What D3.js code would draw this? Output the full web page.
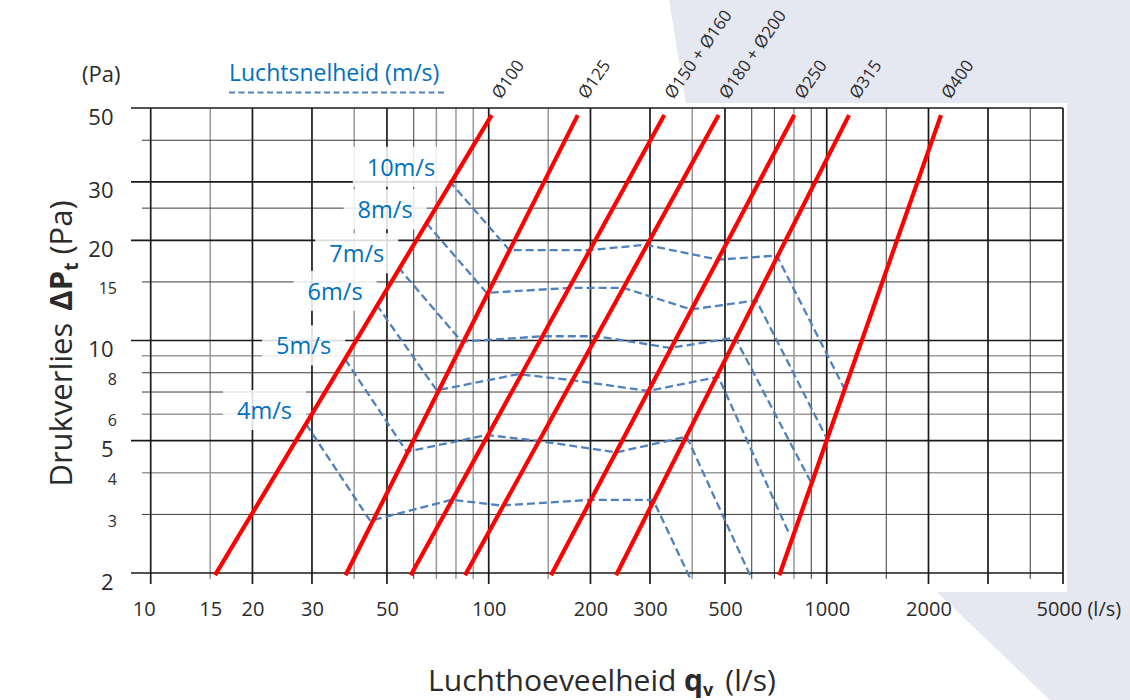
<!DOCTYPE html>
<html>
<head>
<meta charset="utf-8">
<script src="https://cdn.jsdelivr.net/npm/d3@7"></script>
<style>
body { margin: 0; background: #fff; }
svg { display: block; font-family: "Open Sans", sans-serif; }
</style>
</head>
<body>
<script>
// duct lines: q (l/s) at the lower and upper end
var ducts = ["Ø100", "Ø125", "Ø150 + Ø160", "Ø180 + Ø200", "Ø250", "Ø315", "Ø400"];
var ductQLow = [15.5, 37.7, 58.8, 85.1, 152.9, 238.1, 724];
var ductQHigh = [102, 183.4, 330.7, 478.9, 801.9, 1164, 2178];
var ductDp = [1.97, 47.6];

// air speed lines, one point per duct (q in l/s, dP in Pa)
var speeds = ["10m/s", "8m/s", "7m/s", "6m/s", "5m/s", "4m/s"];
var speedQ = [
    [76.4, 115.1, 199.4, 291.4, 477.8, 711.5, 1133],
    [65.5, 98.6, 174.0, 250.1, 396.7, 619.2, 1000],
    [54.0, 83.2, 145.1, 209.1, 343.9, 535.5, 896.7],
    [46.6, 70.2, 122.4, 176.4, 296.7, 477.8, 769.8],
    [37.6, 57.2, 98.6, 140.2, 239.1, 385.3, 593.1],
    [28.8, 44.6, 77.9, 109.3, 199.4, 306.3, 396.7]
];
var speedDp = [
    [30.2, 18.7, 18.7, 19.4, 17.5, 18.0, 7.1],
    [22.5, 13.9, 14.4, 14.4, 12.4, 13.2, 5.08],
    [16.6, 9.92, 10.3, 10.3, 9.5, 10.2, 3.76],
    [12.8, 7.08, 7.92, 7.6, 7.05, 7.78, 2.66],
    [8.78, 4.63, 5.2, 4.99, 4.61, 5.14, 1.97],
    [5.61, 2.87, 3.32, 3.19, 3.32, 3.32, 1.905]
];

// grid and ticks
var xMajor = [10, 20, 30, 50, 100, 200, 300, 500, 1000, 2000, 3000, 5000];
var xMid = [60, 600, 700, 900, 1500, 4000];
var xMinor = [15, 40, 70, 80, 90, 150, 400, 800];
var xLabels = [10, 15, 20, 30, 50, 100, 200, 300, 500, 1000, 2000, 5000];
var yMajor = [2, 5, 10, 20, 30, 50];
var yMid = [3, 7, 8, 15, 25, 40];
var yMinor = [4, 6, 9];
var yLabelsBig = [2, 5, 10, 20, 30, 50];
var yLabelsSmall = [3, 4, 6, 8, 15];

var width = 1130, height = 700;
var plotL = 150.7, plotR = 1063, plotT = 108, plotB = 573;
var textCol = "#2b2b2b";

var svg = d3.select("body")
    .append("svg")
    .attr("width", width)
    .attr("height", height);

var x = d3.scaleLog().domain([10, 5000]).range([plotL, plotR]);
var y = d3.scaleLog().domain([2, 50]).range([plotB, plotT]);

// background shape + white panel
svg.append("path")
    .attr("d", "M669,0 L686,103 L937,592 L1050,700 L1130,700 L1130,0 Z")
    .attr("fill", "#e5e7f1");
svg.append("rect")
    .attr("x", 0).attr("y", 103)
    .attr("width", 1067).attr("height", 489)
    .attr("fill", "#fff");

// grid
var grid = svg.append("g");
function vLines(vals, col, w, y2) {
    grid.selectAll(null).data(vals).enter().append("line")
        .attr("x1", d => x(d)).attr("x2", d => x(d))
        .attr("y1", plotT).attr("y2", y2)
        .attr("stroke", col).attr("stroke-width", w);
}
function hLines(vals, col, w, x1) {
    grid.selectAll(null).data(vals).enter().append("line")
        .attr("x1", x1).attr("x2", plotR)
        .attr("y1", d => y(d)).attr("y2", d => y(d))
        .attr("stroke", col).attr("stroke-width", w);
}
vLines(xMinor, "#9a9a9a", 1.5, 579);
hLines(yMinor, "#9a9a9a", 1.5, 142);
vLines(xMid, "#3a3a3a", 1, 579);
hLines(yMid, "#3a3a3a", 1, 142);
vLines(xMajor, "#1a1a1a", 1.7, 584);
hLines(yMajor, "#1a1a1a", 1.7, 131);

// x tick labels
var xAxis = svg.append("g")
    .attr("transform", "translate(0,602)")
    .call(d3.axisBottom(x).tickValues(xLabels).tickSize(0).tickPadding(0)
        .tickFormat(d => d === 5000 ? "5000 (l/s)" : d));
xAxis.select(".domain").remove();
xAxis.selectAll("text")
    .style("font-family", "Open Sans")
    .style("font-size", "20px")
    .attr("fill", textCol);
xAxis.selectAll("text").filter(d => d === 10).attr("x", -7);
xAxis.selectAll("text").filter(d => d === 5000)
    .attr("text-anchor", "start")
    .attr("x", -27);

// y tick labels
var yBig = svg.append("g")
    .attr("transform", "translate(113.5,9)")
    .call(d3.axisLeft(y).tickValues(yLabelsBig).tickSize(0).tickPadding(0).tickFormat(d3.format("d")));
yBig.select(".domain").remove();
yBig.selectAll("text").style("font-family", "Open Sans").style("font-size", "22px").attr("fill", textCol);

var ySmall = svg.append("g")
    .attr("transform", "translate(117,6.5)")
    .call(d3.axisLeft(y).tickValues(yLabelsSmall).tickSize(0).tickPadding(0).tickFormat(d3.format("d")));
ySmall.select(".domain").remove();
ySmall.selectAll("text").style("font-family", "Open Sans").style("font-size", "16px").attr("fill", textCol);

// speed labels with light boxes
var boxes = svg.append("g");
var labels = svg.append("g");
speeds.forEach(function(s, i) {
    var t = labels.append("text")
        .attr("x", x(speedQ[i][0]) - 14)
        .attr("y", y(speedDp[i][0]) - 5)
        .attr("text-anchor", "end")
        .attr("fill", "#0070c0")
        .style("font-size", "23.5px")
        .text(s);
    var b = t.node().getBBox();
    boxes.append("rect")
        .attr("x", b.x - 14).attr("y", b.y - 4)
        .attr("width", b.width + 28).attr("height", b.height + 8)
        .attr("fill", "#fff").attr("opacity", 0.85);
});

// dashed speed lines
var line = d3.line().x(d => x(d[0])).y(d => y(d[1]));
svg.append("g").selectAll("path")
    .data(speeds.map((s, i) => d3.zip(speedQ[i], speedDp[i])))
    .enter().append("path")
    .attr("d", line)
    .attr("fill", "none")
    .attr("stroke", "#4f81bd")
    .attr("stroke-width", 2.3)
    .attr("stroke-dasharray", "8,4");

// duct lines
svg.append("g").selectAll("line")
    .data(ducts)
    .enter().append("line")
    .attr("x1", (d, i) => x(ductQLow[i])).attr("y1", y(ductDp[0]))
    .attr("x2", (d, i) => x(ductQHigh[i])).attr("y2", y(ductDp[1]))
    .attr("stroke", "#ff0000")
    .attr("stroke-width", 4.2);

svg.append("g").selectAll("text")
    .data(ducts)
    .enter().append("text")
    .attr("transform", (d, i) => "translate(" + (x(ductQHigh[i]) + 9) + ",100) rotate(-55)")
    .attr("fill", textCol)
    .style("font-size", "17px")
    .text(d => d);

// legend
svg.append("text")
    .attr("x", 229).attr("y", 81)
    .attr("fill", "#0070c0")
    .style("font-size", "23px")
    .text("Luchtsnelheid (m/s)");
svg.append("line")
    .attr("x1", 229).attr("x2", 445)
    .attr("y1", 92.5).attr("y2", 92.5)
    .attr("stroke", "#4f81bd")
    .attr("stroke-width", 2)
    .attr("stroke-dasharray", "6,3.5");

svg.append("text")
    .attr("x", 82).attr("y", 82)
    .attr("fill", textCol)
    .style("font-size", "22px")
    .text("(Pa)");

// axis titles
var yt = svg.append("text")
    .attr("transform", "translate(72,343.5) rotate(-90)")
    .attr("text-anchor", "middle")
    .attr("fill", textCol)
    .style("font-size", "31px");
yt.append("tspan").text("Drukverlies");
yt.append("tspan").attr("dx", 12).style("font-weight", "bold").text("ΔP");
yt.append("tspan").attr("dy", 6).style("font-weight", "bold").style("font-size", "19px").text("t");
yt.append("tspan").attr("dy", -6).attr("dx", 8).text("(Pa)");

var xt = svg.append("text")
    .attr("x", 602).attr("y", 691)
    .attr("text-anchor", "middle")
    .attr("fill", textCol)
    .style("font-size", "30px");
xt.append("tspan").text("Luchthoeveelheid ");
xt.append("tspan").style("font-weight", "bold").text("q");
xt.append("tspan").attr("dy", 5).style("font-weight", "bold").style("font-size", "18px").text("v");
xt.append("tspan").attr("dy", -5).attr("dx", 12).text("(l/s)");
</script>
</body>
</html>
